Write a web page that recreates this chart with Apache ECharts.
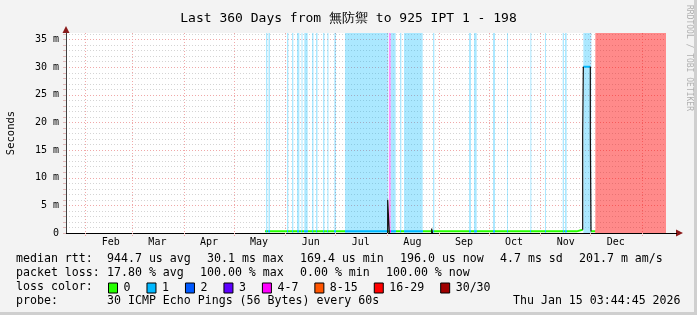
<!DOCTYPE html>
<html><head><meta charset="utf-8">
<script src="https://cdn.jsdelivr.net/npm/echarts@6/dist/echarts.min.js"></script>
<style>
html,body{margin:0;padding:0;background:#f3f3f3;}
#c{width:697px;height:315px;}
</style></head><body><div id="c"></div>
<script>
// ---------- data (x = days since Jan 20 2025 03:44:45, y = milliseconds) ----------
const monthNames  = ['Feb','Mar','Apr','May','Jun','Jul','Aug','Sep','Oct','Nov','Dec'];
const monthStarts = [11.84,39.84,70.84,100.84,131.84,161.84,192.84,223.84,253.84,284.84,314.84,345.84];
const monthLabelDays = [26.84,54.84,85.84,115.84,146.84,176.84,207.84,238.84,268.84,299.84,329.84];
const yTickValues = [0,5,10,15,20,25,30,35];

const lossNames  = ['0','1','2','3','4-7','8-15','16-29','30/30'];
const lossColors = ['#26ff00','#00b8ff','#0059ff','#5e00ff','#ff00ff','#ff5500','#ff0000','#a00000'];

// loss background bars
const bandStart = [120.0,121.5,132.6,135.6,138.6,141.3,143.0,147.6,150.0,154.2,156.8,161.0,167.4,193.8,194.8,200.4,202.8,220.2,241.8,244.8,256.2,264.6,278.6,287.4,298.0,299.4,310.4,317.6];
const bandEnd   = [120.8,122.4,133.4,136.4,140.0,141.9,145.0,148.5,150.9,155.1,157.5,162.0,193.4,194.8,197.8,201.2,214.0,221.0,243.0,246.4,257.4,265.2,279.2,288.0,298.8,300.4,315.2,360.0];
const bandClass = [1,1,1,1,1,1,1,1,1,1,1,1,1,4,1,1,1,1,1,1,1,1,1,1,1,1,1,6];

// median rtt (coloured by loss)
const rttDays = [119.4,135,150,165,180,195,210,225,240,255,270,285,300,306.4,306.4,310.0,310.2,310.4,314.6,314.8,315.0,317.6];
const rttMs   = [0.3,0.3,0.3,0.3,0.3,0.3,0.3,0.3,0.3,0.3,0.3,0.3,0.3,0.3,0.6,0.6,null,30.1,30.1,null,0.3,0.3];

// dark spikes
const spikeDays = [193.0,193.0,194.0,194.0,194.1,219.4,219.4,219.9,219.9,220.0,310.0,310.0,310.4,310.4,310.5,314.6,314.6,315.0,315.0];
const spikeMs   = [0,6.0,6.0,0,null,0,0.8,0.8,0,null,0.6,18,18,30.1,null,30.1,18,18,0.3];

const titleText = 'Last 360 Days from 無防禦 to 925 IPT 1 - 198';
const statsMedian = ['944.7 us avg','30.1 ms max','169.4 us min','196.0 us now','4.7 ms sd','201.7 m am/s'];
const statsLoss   = ['17.80 % avg','100.00 % max','0.00 % min','100.00 % now'];
const probeText   = '30 ICMP Echo Pings (56 Bytes) every 60s';
const stampText   = 'Thu Jan 15 03:44:45 2026';

// ---------- styles ----------
const MONO = '"DejaVu Sans Mono", monospace';
const bandAlpha = {1:0.33, 4:0.42, 6:0.46};
function rgba(hex,a){const n=parseInt(hex.slice(1),16);return 'rgba('+(n>>16)+','+((n>>8)&255)+','+(n&255)+','+a+')';}

const segs = bandStart.map((s,i)=>({s:s,e:bandEnd[i],c:bandClass[i]})).sort((a,b)=>a.s-b.s);
const pieces=[]; let cur=-10;
segs.forEach(b=>{ if(b.s>cur) pieces.push({gte:cur,lt:b.s,color:lossColors[0]}); pieces.push({gte:b.s,lt:b.e,color:lossColors[b.c]}); cur=b.e; });
pieces.push({gte:cur,lte:500,color:lossColors[0]});

const classSeries = lossNames.map((name,ci)=>{
  const areas=[];
  bandStart.forEach((s,i)=>{ if(bandClass[i]===ci) areas.push([{xAxis:s,itemStyle:{color:rgba(lossColors[ci],bandAlpha[ci]||0.4)}},{xAxis:bandEnd[i]}]); });
  return {name:name,type:'line',data:[],z:1,itemStyle:{color:lossColors[ci]},
    markArea:{silent:true,data:areas}};
});

const textLine=(x,y,t,extra)=>Object.assign({type:'text',x:x,y:y,silent:true,
  style:{text:t,fill:'#000',font:'11.6px '+MONO,textAlign:'left',textVerticalAlign:'middle',align:'left',verticalAlign:'middle'}},extra||{});

const graphics=[];
graphics.push(textLine(16,259,'median rtt:'));
[107,207,300,400,500,579].forEach((x,i)=>graphics.push(textLine(x,259,statsMedian[i])));
graphics.push(textLine(16,273,'packet loss:'));
[107,200,300,386].forEach((x,i)=>graphics.push(textLine(x,273,statsLoss[i])));
graphics.push(textLine(16,287,'loss color:'));
graphics.push(textLine(16,301,'probe:'));
graphics.push(textLine(107,301,probeText));
graphics.push(textLine(513,301,stampText));
graphics.push({type:'text',x:689,y:5,rotation:-Math.PI/2,silent:true,
  style:{text:'RRDTOOL / TOBI OETIKER',fill:'#b0b0b0',font:'8px '+MONO,textAlign:'left',textVerticalAlign:'middle',align:'left',verticalAlign:'middle'}});
graphics.push({type:'polygon',silent:true,shape:{points:[[62.5,33],[69.5,33],[66,26]]},style:{fill:'#8b1a1a'}});
graphics.push({type:'polygon',silent:true,shape:{points:[[676,229.5],[676,236.5],[683,233]]},style:{fill:'#8b1a1a'}});
graphics.push({type:'line',silent:true,shape:{x1:666,y1:233.5,x2:677,y2:233.5},style:{stroke:'#000',lineWidth:1}});
graphics.push({type:'rect',silent:true,shape:{x:694,y:0,width:3,height:315},style:{fill:'#cfcfcf'}});
graphics.push({type:'rect',silent:true,shape:{x:0,y:312,width:697,height:3},style:{fill:'#cfcfcf'}});

const chart = echarts.init(document.getElementById('c'),null,{renderer:'canvas'});
chart.setOption({
  backgroundColor:'#f3f3f3',
  animation:false,
  title:{text:titleText,left:'center',top:7,textStyle:{fontFamily:MONO,fontSize:13,fontWeight:'normal',color:'#000'}},
  grid:{left:66,right:31,top:33,bottom:82,show:true,backgroundColor:'#ffffff',borderWidth:0,containLabel:false,outerBoundsMode:'none'},
  legend:{data:lossNames,left:108,top:282,padding:0,itemWidth:9,itemHeight:10,itemGap:16,icon:'rect',
    itemStyle:{borderColor:'#000',borderWidth:1},
    textStyle:{fontFamily:MONO,fontSize:11.6,color:'#000',padding:[0,0,0,1]},selectedMode:false},
  visualMap:{show:false,type:'piecewise',dimension:0,seriesIndex:lossNames.length,pieces:pieces},
  xAxis:{type:'value',min:0,max:360,
    axisLine:{show:true,onZero:false,lineStyle:{color:'#000',width:1}},
    axisTick:{show:true,length:4,customValues:monthStarts,lineStyle:{color:'#f0a8a8',type:[1,1]}},
    axisLabel:{customValues:monthLabelDays,margin:4,fontFamily:MONO,fontSize:10,color:'#000',
      formatter:v=>{const i=monthLabelDays.findIndex(c=>Math.abs(c-v)<1e-6);return i>=0?monthNames[i]:'';}},
    splitLine:{show:true,lineStyle:{color:'#f0a8a8',type:[1,2],width:1}}},
  yAxis:{type:'value',min:0,max:36.2,interval:1,name:'Seconds',nameLocation:'middle',nameGap:49,nameRotate:90,
    nameTextStyle:{fontFamily:MONO,fontSize:10.5,color:'#000'},
    axisLine:{show:true,lineStyle:{color:'#404040',width:1}},
    axisTick:{show:true,length:3,lineStyle:{color:'#e0b8b8'}},
    axisLabel:{margin:7,fontFamily:MONO,fontSize:10,color:'#000',showMaxLabel:false,
      formatter:v=>yTickValues.indexOf(v)<0?'':(v===0?'0':v+' m')},
    splitLine:{show:true,showMaxLine:false,lineStyle:{color:['#f0a8a8','#d4d4d4','#d4d4d4','#d4d4d4','#d4d4d4'],type:[1,2],width:1}}},
  graphic:graphics,
  series:[].concat(classSeries,[
    {name:'median',type:'line',z:5,showSymbol:false,symbol:'none',connectNulls:false,
      lineStyle:{width:2},data:rttDays.map((d,i)=>[d,rttMs[i]])},
    {name:'spike',type:'line',z:6,showSymbol:false,symbol:'none',connectNulls:false,
      lineStyle:{width:1.2,color:'#111'},itemStyle:{color:'#111'},data:spikeDays.map((d,i)=>[d,spikeMs[i]])}
  ])
});
</script></body></html>
